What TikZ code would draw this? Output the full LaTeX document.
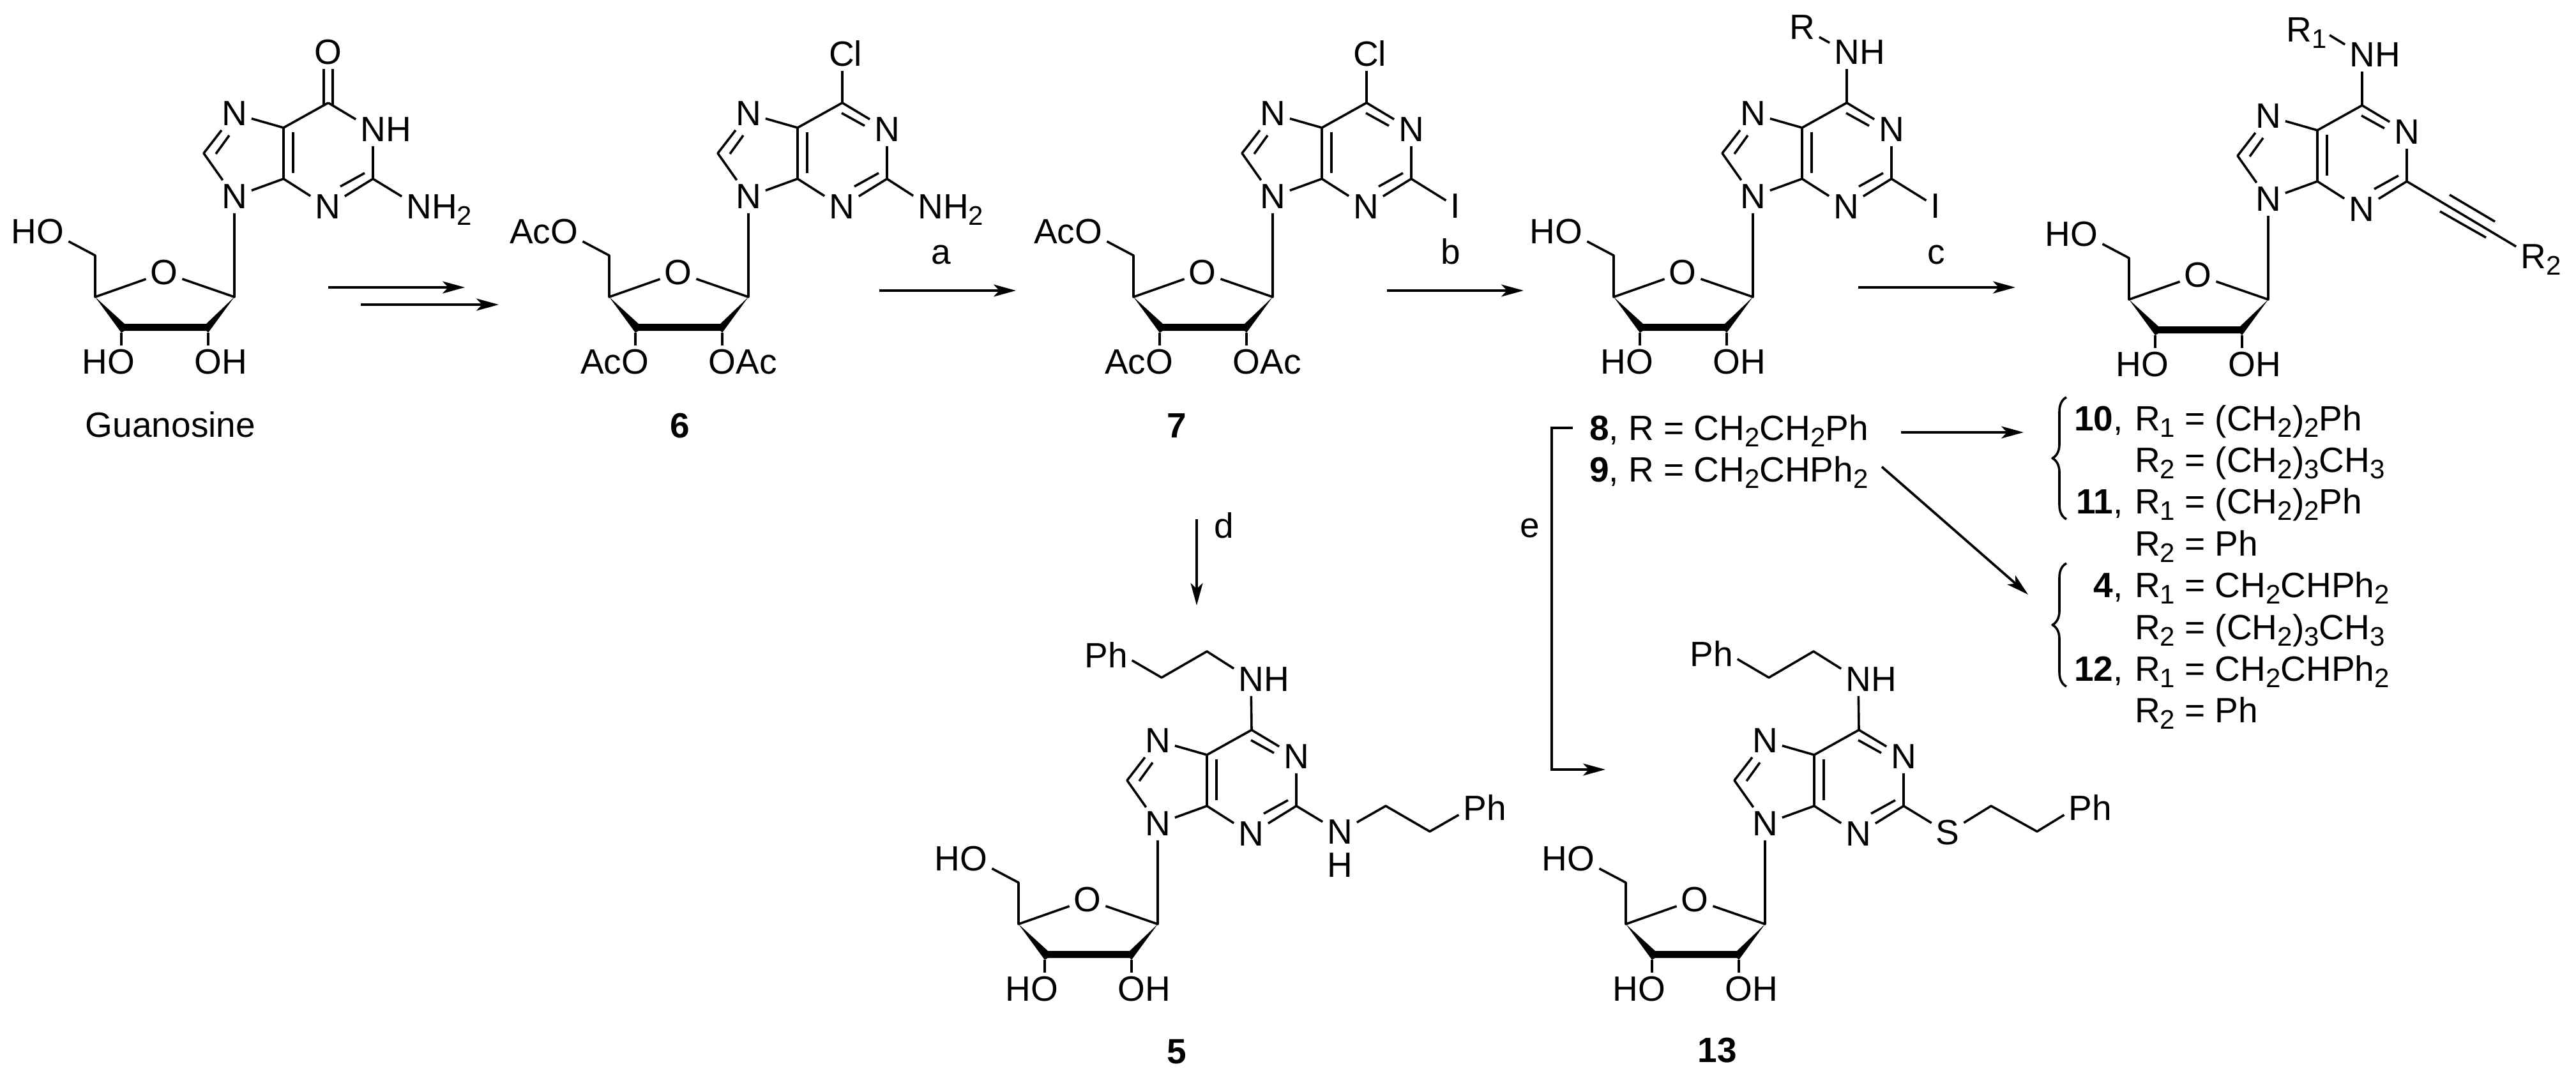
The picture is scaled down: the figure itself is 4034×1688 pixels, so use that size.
\documentclass[tikz,border=0pt]{standalone}
\usepackage{fontspec}
\setmainfont{Liberation Sans}
\usetikzlibrary{arrows.meta,decorations.pathreplacing}

\newcommand{\sbs}[1]{\raisebox{-10pt}{\fontsize{42}{42}\selectfont #1}}

\tikzset{
	atom/.style={inner sep=0pt,outer sep=7pt},
	lefttail/.style={inner sep=0pt,anchor=base east,xshift=7pt},
	righttail/.style={inner sep=0pt,anchor=base west,xshift=-7pt},
	plain/.style={inner sep=0pt},
	bond/.style={line width=3.6pt,line join=round},
	rxn/.style={line width=3.8pt,-{Stealth[length=35pt,width=19pt,inset=9pt]}}
}

% ring system and sugar, N9 at (#2,#3), #4 is H or Ac
\newcommand{\nucleoside}[4]{
	\begin{scope}[shift={(#2,#3)}]
		\node[atom] (#1n9) at (0,0) {N};
		\node[atom] (#1n7) at (0,-130) {N};
		\node[atom] (#1n3) at (146,16) {N};
		\node[atom] (#1n1) at (217,-105) {N};
		\coordinate (#1c4) at (77,-28);
		\coordinate (#1c5) at (77,-108);
		\coordinate (#1c6) at (147,-147);
		\coordinate (#1c2) at (217,-28);
		\coordinate (#1c8) at (-48,-68);
		\coordinate (#1e1) at (146,-131);
		\coordinate (#1e2) at (182,-111);
		\coordinate (#1f1) at (92,-101);
		\coordinate (#1f2) at (92,-37);
		\coordinate (#1g1) at (-8,-96);
		\coordinate (#1g2) at (-29,-67);
		\coordinate (#1h1) at (204,-37);
		\coordinate (#1h2) at (166,-16);
		\node[atom] (#1o4) at (-110,119) {O};
		\node[atom] (#1o5) at (-288,55) {O};
		\node[atom] (#1o3) at (-177,259) {O};
		\node[atom] (#1o2) at (-41,259) {O};
		\node[lefttail] (#1t5) at (#1o5.base west) {#4};
		\node[lefttail] (#1t3) at (#1o3.base west) {#4};
		\node[righttail] (#1t2) at (#1o2.base east) {#4};
		\coordinate (#1s1) at (0,157);
		\coordinate (#1s4) at (-218,157);
		\coordinate (#1s5) at (-218,92);
		\coordinate (#1s3) at (-177,213);
		\coordinate (#1s2) at (-41,213);
		\fill (#1s4) -- (-172,199) -- (-44,199) -- (#1s1) -- (#1s2) -- (-44,210) -- (-172,210) -- (#1s3) -- cycle;
		\draw[bond] (#1c6) -- (#1c5) -- (#1c4) -- (#1n3) -- (#1c2) -- (#1n1);
		\draw[bond] (#1n7) -- (#1c5);
		\draw[bond] (#1n9) -- (#1c4);
		\draw[bond] (#1n9) -- (#1c8) -- (#1n7);
		\draw[bond] (#1c6) -- (#1n1);
		\draw[bond] (#1f1) -- (#1f2);
		\draw[bond] (#1g1) -- (#1g2);
		\draw[bond] (#1h1) -- (#1h2);
		\draw[bond] (#1n9) -- (#1s1) -- (#1o4) -- (#1s4) -- (#1s5) -- (#1o5);
		\draw[bond] (#1s3) -- (#1o3);
		\draw[bond] (#1s2) -- (#1o2);
	\end{scope}
}

\begin{document}
\begin{tikzpicture}[x=1pt,y=-1pt,every node/.style={font=\fontsize{55}{60}\selectfont}]
	\useasboundingbox (0,0) rectangle (4034,1688);
	
	\nucleoside{mg}{367}{308}{H}
	\nucleoside{msix}{1172}{308}{Ac}
	\nucleoside{mseven}{1993}{308}{Ac}
	\nucleoside{meight}{2745}{308}{H}
	\nucleoside{mten}{3552}{312}{H}
	\nucleoside{mfive}{1813}{1290}{H}
	\nucleoside{mthir}{2764}{1290}{H}
	
	% the C6=N1 inner lines, guanosine has none
	\foreach \m in {msix,mseven,meight,mten,mfive,mthir} {
		\draw[bond] (\m e1) -- (\m e2);
	}
	
	% guanosine
	\node[righttail] (mgh) at (mgn1.base east) {H};
	\node[atom] (mgo) at (514,82) {O};
	\draw[bond] ([xshift=-7pt]mgo.south) -- ([xshift=-7pt,yshift=-5pt]mgc6);
	\draw[bond] ([xshift=7pt]mgo.south) -- ([xshift=7pt,yshift=-5pt]mgc6);
	\node[atom] (mgnh) at (656,324) {N};
	\node[righttail] (mgnht) at (mgnh.base east) {H\sbs{2}};
	\draw[bond] (mgc2) -- (mgnh);
	\node (guan) at (267,665) {Guanosine};
	
	% 6
	\node[atom] (msixcl) at (1324,84) {Cl};
	\draw[bond] (msixc6) -- (msixc6 |- msixcl.south);
	\node[atom] (msixnh) at (1457,324) {N};
	\node[righttail] (msixnht) at (msixnh.base east) {H\sbs{2}};
	\draw[bond] (msixc2) -- (msixnh);
	\node (lsix) at (1065,667) {\textbf{6}};
	
	% 7
	\node[atom] (msevencl) at (2145,84) {Cl};
	\draw[bond] (msevenc6) -- (msevenc6 |- msevencl.south);
	\node[atom] (msevenI) at (2279,323) {I};
	\draw[bond] (msevenc2) -- (msevenI);
	\node (lseven) at (1843,667) {\textbf{7}};
	
	% 8, 9
	\node[atom] (meightnh) at (2892,82) {N};
	\node[righttail] (meightnht) at (meightnh.base east) {H};
	\node[atom] (meightr) at (2822,43) {R};
	\draw[bond] (meightc6) -- (meightnh);
	\draw[bond] (meightr) -- (meightnh);
	\node[atom] (meightI) at (3031,323) {I};
	\draw[bond] (meightc2) -- (meightI);
	\node[plain,anchor=base west] (leight) at (2489,689) {\textbf{8}, R = CH\sbs{2}CH\sbs{2}Ph};
	\node[plain,anchor=base west] (lnine) at (2489,754) {\textbf{9}, R = CH\sbs{2}CHPh\sbs{2}};
	
	% 10
	\node[atom] (mtennh) at (3699,86) {N};
	\node[righttail] (mtennht) at (mtennh.base east) {H};
	\node[atom] (mtenr) at (3600,47) {R};
	\node[righttail] (mtenrt) at (mtenr.base east) {\sbs{1}};
	\coordinate (mtenrb) at (3648,55);
	\draw[bond] (mtenc6) -- (mtennh);
	\draw[bond] (mtenrb) -- (mtennh);
	\node[atom] (mtenrr) at (3967,402) {R};
	\node[righttail] (mtenrrt) at (mtenrr.base east) {\sbs{2}};
	\draw[bond] (mtenc2) -- (mtenrr);
	\coordinate (ya) at (3836,305);
	\coordinate (yb) at (3907,347);
	\coordinate (yc) at (3821,331);
	\coordinate (yd) at (3893,372);
	\draw[bond] (ya) -- (yb);
	\draw[bond] (yc) -- (yd);
	
	% 5
	\node[atom] (mfivenh) at (1959,1064) {N};
	\node[righttail] (mfivenht) at (mfivenh.base east) {H};
	\coordinate (mfiveca) at (1890,1020);
	\coordinate (mfivecb) at (1819,1061);
	\node[atom] (mfiveph) at (1732,1026) {Ph};
	\draw[bond] (mfivec6) -- (mfivenh) -- (mfiveca) -- (mfivecb) -- ([yshift=-8pt]mfiveph.east);
	\node[atom] (mfivenb) at (2098,1303) {N};
	\node[atom] (mfivehb) at (2098,1355) {H};
	\coordinate (mfivecc) at (2170,1262);
	\coordinate (mfivecd) at (2239,1302);
	\node[atom] (mfivepb) at (2325,1265) {Ph};
	\draw[bond] (mfivec2) -- (mfivenb) -- (mfivecc) -- (mfivecd) -- ([yshift=-11pt]mfivepb.west);
	\node (lfive) at (1843,1647) {\textbf{5}};
	
	% 13
	\node[atom] (mthirnh) at (2910,1064) {N};
	\node[righttail] (mthirnht) at (mthirnh.base east) {H};
	\coordinate (mthirca) at (2840,1020);
	\coordinate (mthircb) at (2770,1061);
	\node[atom] (mthirph) at (2680,1024) {Ph};
	\draw[bond] (mthirc6) -- (mthirnh) -- (mthirca) -- (mthircb) -- ([yshift=-8pt]mthirph.east);
	\node[atom] (mthirs) at (3050,1304) {S};
	\coordinate (mthircc) at (3118,1262);
	\coordinate (mthircd) at (3190,1302);
	\node[atom] (mthirpb) at (3273,1265) {Ph};
	\draw[bond] (mthirc2) -- (mthirs) -- (mthircc) -- (mthircd) -- ([yshift=-11pt]mthirpb.west);
	\node (lthir) at (2689,1645) {\textbf{13}};
	
	% right column
	\foreach \rn/\ln/\txt in {ra/674/{R\sbs{1} = (CH\sbs{2})\sbs{2}Ph},
		rb/739/{R\sbs{2} = (CH\sbs{2})\sbs{3}CH\sbs{3}},
		rc/804/{R\sbs{1} = (CH\sbs{2})\sbs{2}Ph},
		rd/870/{R\sbs{2} = Ph},
		re/935/{R\sbs{1} = CH\sbs{2}CHPh\sbs{2}},
		rf/1001/{R\sbs{2} = (CH\sbs{2})\sbs{3}CH\sbs{3}},
		rg/1066/{R\sbs{1} = CH\sbs{2}CHPh\sbs{2}},
		rh/1131/{R\sbs{2} = Ph}} {
		\node[plain,anchor=base west] (\rn) at (3343,\ln) {\txt};
	}
	\foreach \bn/\ln/\txt in {ba/674/10,bb/804/11,bc/935/4,bd/1066/12} {
		\node[plain,anchor=base east] (\bn) at (3325,\ln) {\textbf{\txt},};
	}
	\coordinate (bra) at (3236,813);
	\coordinate (brb) at (3236,622);
	\coordinate (brc) at (3236,1075);
	\coordinate (brd) at (3236,882);
	\draw[bond,decorate,decoration={brace,amplitude=22pt}] (bra) -- (brb);
	\draw[bond,decorate,decoration={brace,amplitude=22pt}] (brc) -- (brd);
	
	% reaction arrows
	\coordinate (pa) at (514,450);
	\coordinate (pb) at (728,450);
	\coordinate (pc) at (565,477);
	\coordinate (pd) at (781,477);
	\draw[rxn] (pa) -- (pb);
	\draw[rxn] (pc) -- (pd);
	\coordinate (qa) at (1377,455);
	\coordinate (qb) at (1591,455);
	\draw[rxn] (qa) -- (qb);
	\node[plain,anchor=base] (la) at (1474,413) {a};
	\coordinate (qc) at (2172,455);
	\coordinate (qd) at (2386,455);
	\draw[rxn] (qc) -- (qd);
	\node[plain,anchor=base] (lb) at (2272,413) {b};
	\coordinate (qe) at (2910,450);
	\coordinate (qf) at (3156,450);
	\draw[rxn] (qe) -- (qf);
	\node[plain,anchor=base] (lc) at (3032,413) {c};
	\coordinate (qg) at (1874,813);
	\coordinate (qh) at (1874,948);
	\draw[rxn] (qg) -- (qh);
	\node[plain,anchor=base] (ld) at (1917,842) {d};
	\coordinate (qi) at (2463,670);
	\coordinate (qj) at (2430,670);
	\coordinate (qk) at (2430,1205);
	\coordinate (ql) at (2514,1205);
	\draw[rxn] (qi) -- (qj) -- (qk) -- (ql);
	\node[plain,anchor=base] (le) at (2396,841) {e};
	\coordinate (qm) at (2977,677);
	\coordinate (qn) at (3169,677);
	\draw[rxn] (qm) -- (qn);
	\coordinate (qo) at (2947,731);
	\coordinate (qp) at (3176,931);
	\draw[rxn] (qo) -- (qp);
\end{tikzpicture}
\end{document}
